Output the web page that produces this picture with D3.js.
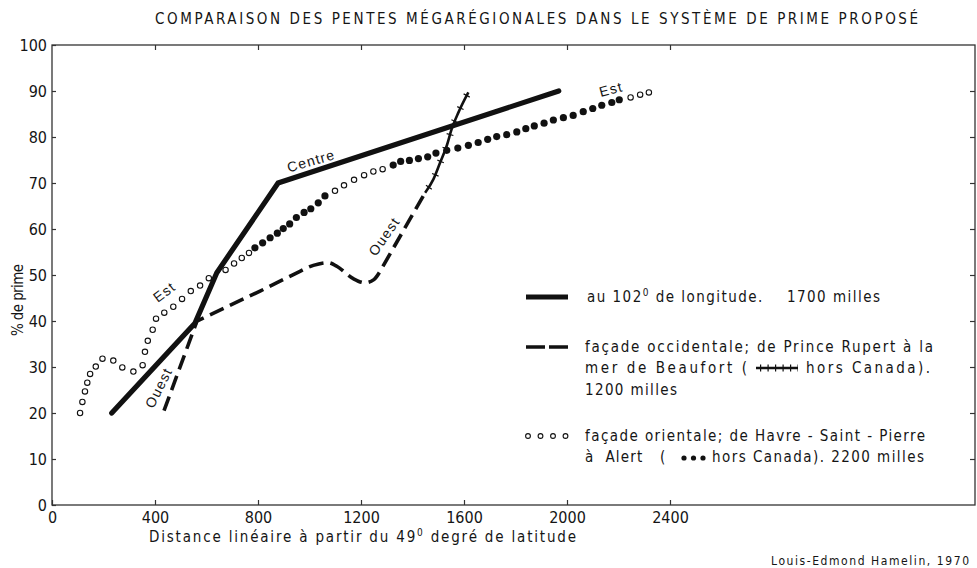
<!DOCTYPE html>
<html><head><meta charset="utf-8">
<script src="https://cdn.jsdelivr.net/npm/d3@7"></script>
<style>
body{margin:0;background:#fff}
svg{display:block}
text{fill:#151515}
.narrow{font-family:"Liberation Sans Narrow","DejaVu Sans Condensed","Arial Narrow",sans-serif;font-stretch:condensed}
</style></head><body>
<svg id="chart" width="977" height="568"></svg>
<script>
// ---------- data ----------
const xTicks = [0, 400, 800, 1200, 1600, 2000, 2400];
const yTicks = [0, 10, 20, 30, 40, 50, 60, 70, 80, 90, 100];

// Centre: au 102e de longitude (solid)
const centre = [[232,20],[555,39.5],[640,50.5],[878,70],[1968,90]];

// Ouest: façade occidentale (dashed, Canada)
const ouestCanada = [[435,20.5],[563,40],[808,46.5],[963,50.8],[1015,52.1],[1073,52.7],[1106,51.9],
  [1170,49.2],[1216,48.3],[1250,49],[1274,50.8],[1449,67.9]];
// Ouest hors Canada (line with cross ticks)
const ouestHors = [[1449,67.9],[1481,70.8],[1507,74.4],[1533,78.1],[1552,81.7],[1578,85.3],[1617,89.7]];

// Est: façade orientale, open circles (Canada)
const estCanada = [[109,20.0],[118,22.4],[128,24.7],[137,26.6],[148,28.5],[170,30.1],[196,31.8],[238,31.4],
  [273,29.9],[316,29.0],[352,30.4],[361,33.3],[372,35.7],[391,38.1],[404,40.5],[436,41.8],[471,43.1],
  [505,44.8],[539,46.5],[575,47.7],[609,49.3],[674,51.1],[707,52.5],[737,53.7],[765,54.8],
  [1099,68.3],[1134,69.5],[1173,70.7],[1212,71.7],[1248,72.5],[1284,73.0],
  [2247,88.6],[2284,89.2],[2318,89.7]];
// Est hors Canada, filled dots
const estHors = [[788,55.9],[818,57.0],[847,58.1],[875,59.1],[898,60.1],[923,61.1],[949,62.5],[979,63.6],
  [1005,64.4],[1034,65.7],[1060,67.2],
  [1325,73.9],[1354,74.7],[1388,74.9],[1423,75.3],[1459,75.7],[1491,76.5],[1533,77.1],[1576,77.6],
  [1617,78.2],[1655,78.8],[1692,79.5],[1727,80.1],[1766,80.5],[1805,81.1],[1840,81.8],[1873,82.4],
  [1911,83.0],[1947,83.7],[1986,84.2],[2024,84.7],[2063,85.5],[2100,86.2],[2135,86.9],[2174,87.5],[2203,88.1]];

const lineLabels = [
  {text:"Centre", x:1006, y:74.8, angle:-16},
  {text:"Est",    x:2171, y:90.4, angle:-15},
  {text:"Est",    x:436,  y:46.3, angle:-37},
  {text:"Ouest",  x:414,  y:25.5, angle:-63},
  {text:"Ouest",  x:1290, y:58.4, angle:-55}
];

const title = "COMPARAISON DES PENTES MÉGARÉGIONALES DANS LE SYSTÈME DE PRIME PROPOSÉ";
const yTitle = "% de prime";
const credit = "Louis-Edmond Hamelin, 1970";

// ---------- drawing ----------
const svg = d3.select("#chart");
const L = 52, R = 975, T = 45, B = 505;
const x = d3.scaleLinear().domain([0, 2400]).range([L, 670]);
const y = d3.scaleLinear().domain([0, 100]).range([B, T]);
const ink = "#111";

// frame
svg.append("rect").attr("x", L).attr("y", T).attr("width", R - L).attr("height", B - T)
  .attr("fill", "none").attr("stroke", "#333").attr("stroke-width", 1.3);

function styleAxis(g){
  g.select(".domain").remove();
  g.selectAll("line").attr("stroke", "#333").attr("stroke-width", 1.2);
  g.selectAll("text").attr("class","narrow").attr("font-size", 16).attr("fill", "#151515");
}
svg.append("g").attr("transform", `translate(0,${B})`)
  .call(d3.axisBottom(x).tickValues(xTicks).tickSize(-5).tickPadding(7).tickFormat(d3.format("d")))
  .call(styleAxis);
svg.append("g").attr("transform", `translate(${L},0)`)
  .call(d3.axisLeft(y).tickValues(yTicks).tickSize(-4).tickPadding(5).tickFormat(d3.format("d")))
  .call(styleAxis);
svg.append("g").attr("transform", `translate(${R},0)`)
  .call(d3.axisRight(y).tickValues(yTicks.slice(1, -1)).tickSize(-5).tickFormat(""))
  .call(styleAxis);
svg.append("g").attr("transform", `translate(0,${T})`)
  .call(d3.axisTop(x).tickValues(xTicks.slice(1)).tickSize(-5).tickFormat(""))
  .call(styleAxis);

// title
svg.append("text").attr("class","narrow").attr("x", 155).attr("y", 24)
  .attr("font-size", 15).attr("textLength", 763).attr("lengthAdjust", "spacing").text(title);

// axis titles
const xt = svg.append("text").attr("class","narrow").attr("x", 149).attr("y", 542).attr("font-size", 15)
  .attr("textLength", 427).attr("lengthAdjust", "spacing");
xt.append("tspan").text("Distance linéaire à partir du 49");
xt.append("tspan").attr("dy", -6).attr("font-size", 10).text("0");
xt.append("tspan").attr("dy", 6).text(" degré de latitude");

svg.append("text").attr("class","narrow").attr("transform", "translate(23,300) rotate(-90)")
  .attr("text-anchor", "middle").attr("font-size", 15).attr("textLength", 72).attr("lengthAdjust", "spacing")
  .text(yTitle);

svg.append("text").attr("class","narrow").attr("x", 771).attr("y", 565).attr("font-size", 12)
  .attr("textLength", 198).attr("lengthAdjust", "spacing").text(credit);

// Est series
svg.append("g").selectAll("circle").data(estCanada).join("circle")
  .attr("cx", d => x(d[0])).attr("cy", d => y(d[1])).attr("r", 2.7)
  .attr("fill", "#fff").attr("stroke", ink).attr("stroke-width", 1.1);
svg.append("g").selectAll("circle").data(estHors).join("circle")
  .attr("cx", d => x(d[0])).attr("cy", d => y(d[1])).attr("r", 3.6).attr("fill", ink);

// Ouest series: straight runs joined by a smooth bump, as one dashed path
const line = d3.line().x(d => x(d[0])).y(d => y(d[1]));
const smooth = d3.line().x(d => x(d[0])).y(d => y(d[1])).curve(d3.curveMonotoneX);
const ouestD = line(ouestCanada.slice(0, 4)) +
  smooth(ouestCanada.slice(3, 11)).replace(/^M[^CLZ]*/, "") +
  line(ouestCanada.slice(10)).replace(/^M/, "L");
svg.append("path").attr("d", ouestD).attr("fill", "none").attr("stroke", ink)
  .attr("stroke-width", 3.6).attr("stroke-dasharray", "15,7");
svg.append("path").attr("d", smooth(ouestHors)).attr("fill", "none").attr("stroke", ink)
  .attr("stroke-width", 2.6);
svg.append("path").attr("d", smooth(ouestHors)).attr("fill", "none").attr("stroke", ink)
  .attr("stroke-width", 7).attr("stroke-dasharray", "1.2,13").attr("stroke-dashoffset", -6);

// Centre series
svg.append("path").attr("d", line(centre)).attr("fill", "none").attr("stroke", ink)
  .attr("stroke-width", 5.2).attr("stroke-linecap", "round").attr("stroke-linejoin", "miter");

// line labels
svg.append("g").selectAll("text").data(lineLabels).join("text")
  .attr("transform", d => `translate(${x(d.x)},${y(d.y)}) rotate(${d.angle})`)
  .attr("text-anchor", "middle").attr("dy", "0.35em")
  .attr("font-family", "'Liberation Sans', Arial, sans-serif").attr("font-size", 14)
  .attr("letter-spacing", 1.2).text(d => d.text);

// ---------- legend ----------
const lg = svg.append("g").attr("class","narrow").attr("font-size", 15);
function ltext(xp, yp, w){
  return lg.append("text").attr("x", xp).attr("y", yp).attr("textLength", w).attr("lengthAdjust", "spacing");
}
// row 1
lg.append("line").attr("x1", 526).attr("x2", 568).attr("y1", 297).attr("y2", 297)
  .attr("stroke", ink).attr("stroke-width", 5);
const t1 = ltext(587, 302, 293);
t1.append("tspan").text("au 102");
t1.append("tspan").attr("dy", -6).attr("font-size", 10).text("0");
t1.append("tspan").attr("dy", 6).text(" de longitude.\u00a0\u00a0\u00a0\u00a01700 milles");
// row 2
lg.append("line").attr("x1", 526).attr("x2", 568).attr("y1", 347).attr("y2", 347)
  .attr("stroke", ink).attr("stroke-width", 3.6).attr("stroke-dasharray", "19,4");
ltext(585, 352, 348).text("façade occidentale; de Prince Rupert à la");
ltext(585, 373, 162).text("mer de Beaufort (");
lg.append("line").attr("x1", 756).attr("x2", 798).attr("y1", 368).attr("y2", 368)
  .attr("stroke", ink).attr("stroke-width", 2.4);
lg.append("line").attr("x1", 756).attr("x2", 798).attr("y1", 368).attr("y2", 368)
  .attr("stroke", ink).attr("stroke-width", 7).attr("stroke-dasharray", "1.2,6.3").attr("stroke-dashoffset", -4);
ltext(806, 373, 124).text("hors Canada).");
ltext(585, 395, 92).text("1200 milles");
// row 3
lg.append("g").selectAll("circle").data(d3.range(4)).join("circle")
  .attr("cx", i => 528 + i * 12.5).attr("cy", 436).attr("r", 2.4)
  .attr("fill", "#fff").attr("stroke", ink).attr("stroke-width", 1.1);
ltext(585, 441, 340).text("façade orientale; de Havre - Saint - Pierre");
lg.append("text").attr("x", 585).attr("y", 462).attr("letter-spacing", 1.2)
  .text("à\u00a0\u00a0Alert\u00a0\u00a0\u00a0(");
lg.append("g").selectAll("circle").data(d3.range(3)).join("circle")
  .attr("cx", i => 684 + i * 9.5).attr("cy", 458).attr("r", 2.6).attr("fill", ink);
ltext(712, 462, 212).text("hors Canada). 2200 milles");
</script>
</body></html>
